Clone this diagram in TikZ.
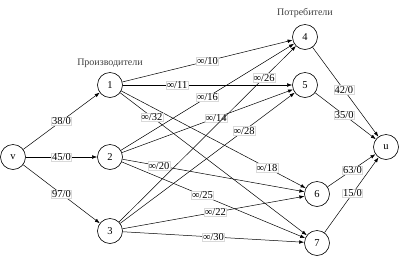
\documentclass[tikz,border=0pt]{standalone}
\usepackage{fontspec}
\setmainfont{Liberation Serif}
\usetikzlibrary{arrows.meta}
\begin{document}
\begin{tikzpicture}[x=1pt,y=-1pt,
  vert/.style={circle,draw,line width=0.6pt,minimum size=25pt,inner sep=0pt,font=\fontsize{10.5}{12}\selectfont},
  lbl/.style={fill=white,draw=black!15,line width=0.4pt,inner sep=0.6pt,font=\fontsize{10.5}{12}\selectfont},
  ttl/.style={font=\fontsize{10}{12}\selectfont,text=black!75},
  edge/.style={line width=0.5pt,-{Latex[length=5pt,width=3.6pt]}}]
\useasboundingbox (0,0) rectangle (400,258);
\node[vert] (v) at (13,157) {v};
\node[vert] (n1) at (110,85) {1};
\node[vert] (n2) at (110,157) {2};
\node[vert] (n3) at (110,231) {3};
\node[vert] (n4) at (305,37) {4};
\node[vert] (n5) at (305,85) {5};
\node[vert] (n6) at (317,194) {6};
\node[vert] (n7) at (317,243) {7};
\node[vert] (u) at (386,147) {u};
\node[ttl] (t1) at (110,63) {Производители};
\node[ttl] (t2) at (305,13) {Потребители};
\draw[edge] (v) -- node[lbl,pos=0.5] {38/0} (n1);
\draw[edge] (v) -- node[lbl,pos=0.5] {45/0} (n2);
\draw[edge] (v) -- node[lbl,pos=0.5] {97/0} (n3);
\draw[edge] (n1) -- node[lbl,pos=0.5] {∞/10} (n4);
\draw[edge] (n1) -- node[lbl,pos=0.32] {∞/11} (n5);
\draw[edge] (n1) -- node[lbl,pos=0.79] {∞/18} (n6);
\draw[edge] (n1) -- node[lbl,pos=0.17] {∞/32} (n7);
\draw[edge] (n2) -- node[lbl,pos=0.5] {∞/16} (n4);
\draw[edge] (n2) -- node[lbl,pos=0.55] {∞/14} (n5);
\draw[edge] (n2) -- node[lbl,pos=0.2] {∞/20} (n6);
\draw[edge] (n2) -- node[lbl,pos=0.44] {∞/25} (n7);
\draw[edge] (n3) -- node[lbl,pos=0.82] {∞/26} (n4);
\draw[edge] (n3) -- node[lbl,pos=0.71] {∞/28} (n5);
\draw[edge] (n3) -- node[lbl,pos=0.51] {∞/22} (n6);
\draw[edge] (n3) -- node[lbl,pos=0.5] {∞/30} (n7);
\draw[edge] (n4) -- node[lbl,pos=0.475] {42/0} (u);
\draw[edge] (n5) -- node[lbl,pos=0.48] {35/0} (u);
\draw[edge] (n6) -- node[lbl,pos=0.52] {63/0} (u);
\draw[edge] (n7) -- node[lbl,pos=0.52] {15/0} (u);
\end{tikzpicture}
\end{document}
